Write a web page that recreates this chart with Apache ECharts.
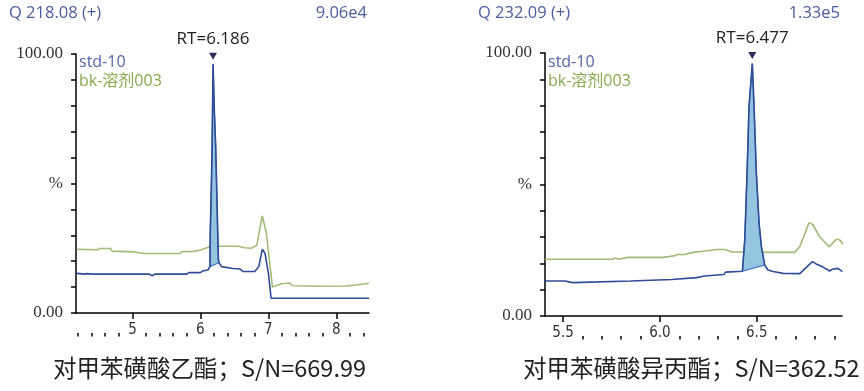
<!DOCTYPE html>
<html>
<head>
<meta charset="utf-8">
<script src="https://cdn.jsdelivr.net/npm/echarts@6/dist/echarts.min.js"></script>
<style>
  html, body { margin: 0; padding: 0; background: #fff; }
  #chart { width: 864px; height: 391px; }
</style>
</head>
<body>
<div id="chart"></div>
<script>
// ---- Ethyl p-toluenesulfonate, m/z 218.08 ----
const ethylStd = [
  [4.18, 15.3], [4.30, 15.0], [4.33, 15.2], [4.40, 15.0], [5.25, 15.0], [5.29, 14.4],
  [5.33, 15.0], [5.80, 15.0], [5.83, 15.6], [6.00, 15.6], [6.03, 16.2], [6.11, 16.6],
  [6.14, 17.9], [6.145, 30.8], [6.16, 47.5], [6.172, 64], [6.186, 96], [6.205, 78],
  [6.225, 64], [6.24, 47.5], [6.255, 30.8], [6.265, 20.5], [6.275, 19.4], [6.31, 17.9],
  [6.48, 17.2], [6.58, 17.0], [6.63, 16.0], [6.80, 16.0], [6.86, 18.0], [6.91, 24.6],
  [6.95, 23.0], [7.00, 15.4], [7.04, 5.7], [7.25, 5.7], [7.27, 5.9], [7.30, 5.7], [8.48, 5.7]
];
const ethylBlank = [
  [4.18, 24.6], [4.48, 24.4], [4.52, 24.9], [4.68, 24.9], [4.70, 23.9], [5.02, 23.6],
  [5.17, 23.0], [5.70, 23.0], [5.73, 23.7], [5.90, 23.8], [6.00, 24.3], [6.14, 25.6],
  [6.29, 25.8], [6.56, 25.8], [6.65, 25.2], [6.75, 25.0], [6.83, 26.2], [6.91, 37.5],
  [6.97, 30.8], [7.03, 17.0], [7.06, 10.0], [7.19, 11.3], [7.31, 11.6], [7.36, 10.5],
  [7.75, 10.3], [8.14, 10.4], [8.29, 10.8], [8.48, 11.5]
];
// integrated window: first and last trace point of the peak
const ethylPeakRange = [6.14, 6.275];
const ethylApex = [6.186, 96];
const ethylTicks = [5, 6, 7, 8];
const ethylMinor = [4.2, 4.4, 4.6, 4.8, 5.2, 5.4, 5.6, 5.8, 6.2, 6.4, 6.6, 6.8,
  7.2, 7.4, 7.6, 7.8, 8.2, 8.4];

// ---- Isopropyl p-toluenesulfonate, m/z 232.09 ----
const isoStd = [
  [5.407, 13.3], [5.51, 13.3], [5.52, 12.7], [5.55, 12.7], [5.56, 13.3], [5.85, 13.3],
  [5.86, 13.9], [6.06, 13.9], [6.07, 14.6], [6.19, 14.6], [6.20, 15.2], [6.23, 15.2],
  [6.24, 15.8], [6.33, 15.8], [6.34, 16.7], [6.426, 17.0], [6.438, 28.9], [6.450, 54.3],
  [6.460, 79.6], [6.477, 96], [6.486, 79.6], [6.498, 54.3], [6.512, 35.2], [6.524, 26.4],
  [6.541, 19.4], [6.558, 17.5], [6.584, 16.9], [6.636, 16.2], [6.722, 16.1], [6.787, 20.7],
  [6.807, 19.8], [6.842, 18.6], [6.876, 17.1], [6.89, 17.8], [6.919, 18.1], [6.942, 16.9]
];
const isoBlank = [
  [5.407, 21.6], [5.756, 21.6], [5.77, 22.1], [5.785, 21.6], [5.837, 22.3], [6.017, 22.3],
  [6.026, 22.9], [6.077, 22.9], [6.094, 23.5], [6.12, 23.3], [6.172, 24.2], [6.232, 24.7],
  [6.292, 25.3], [6.335, 25.3], [6.369, 24.4], [6.584, 24.2], [6.696, 24.2], [6.722, 26.3],
  [6.77, 35.5], [6.79, 34.7], [6.824, 30.2], [6.873, 26.3], [6.911, 29.2], [6.928, 29.0],
  [6.945, 27.4]
];
const isoPeakRange = [6.426, 6.541];
const isoApex = [6.477, 96];
const isoTicks = [5.5, 6.0, 6.5];
const isoMinor = [5.6, 5.7, 5.8, 5.9, 6.1, 6.2, 6.3, 6.4, 6.6, 6.7, 6.8, 6.9];

const yMinorTicks = [0, 10, 20, 30, 40, 50, 60, 70, 80, 90, 100];

const STD_COLOR = '#2f4c99';
const BLANK_COLOR = '#a3bb78';
const FILL_COLOR = '#93c4e0';
const TEXT_BLUE = '#4c5d9e';
const LEGEND_BLUE = '#5565a8';
const LEGEND_GREEN = '#8aa84c';

const panels = [
  {
    grid: { left: 76, right: 495, top: 54, bottom: 78 },
    min: 4.17, max: 8.48,
    major: ethylTicks, minor: ethylMinor, fmt: v => String(v),
    std: ethylStd, blank: ethylBlank, peak: ethylPeakRange, apex: ethylApex, rt: 'RT=6.186'
  },
  {
    grid: { left: 545, right: 22, top: 53, bottom: 75 },
    min: 5.407, max: 6.94,
    major: isoTicks, minor: isoMinor, fmt: v => v.toFixed(1),
    std: isoStd, blank: isoBlank, peak: isoPeakRange, apex: isoApex, rt: 'RT=6.477'
  }
];

const CHART_H = 391;
const MINOR_LEN = 3.5;
const grids = [], xAxes = [], yAxes = [], series = [];
const tickLine = { color: '#000', width: 1.5 };

// grids 0,1: the two plots
panels.forEach((p, i) => {
  grids.push(p.grid);
  xAxes.push({
    type: 'value', gridIndex: i, min: p.min, max: p.max,
    axisLine: { show: true, lineStyle: tickLine }, splitLine: { show: false },
    axisTick: { show: true, length: 6, customValues: p.major, lineStyle: tickLine },
    axisLabel: { show: true, customValues: p.major, formatter: p.fmt, margin: 10,
      fontFamily: 'DejaVu Sans Condensed', fontSize: 15, color: '#333' }
  });
  yAxes.push({
    type: 'value', gridIndex: i, min: 0, max: 100,
    axisLine: { show: true, lineStyle: tickLine }, splitLine: { show: false },
    axisTick: { show: true, length: 5, customValues: yMinorTicks, lineStyle: tickLine },
    axisLabel: { show: true, customValues: [0, 50, 100], margin: 13,
      formatter: v => v === 50 ? '%' : v.toFixed(2),
      fontFamily: 'Liberation Serif', fontSize: 17, color: '#333' }
  });
});

// grids 2,3: thin strips just under each time axis; their top-edge axis
// carries the short minor ticks, which reach up to the time axis line
panels.forEach((p, i) => {
  const axisY = CHART_H - p.grid.bottom;
  grids.push({ left: p.grid.left, right: p.grid.right, top: axisY + MINOR_LEN, height: 20 });
  xAxes.push({
    type: 'value', gridIndex: i + 2, position: 'top', min: p.min, max: p.max,
    axisLine: { show: false }, splitLine: { show: false },
    axisTick: { show: true, length: MINOR_LEN, customValues: p.minor, lineStyle: tickLine },
    axisLabel: { show: false }
  });
  yAxes.push({ type: 'value', gridIndex: i + 2, min: 0, max: 1, show: false });
});

panels.forEach((p, i) => {
  // integrated area under the standard peak, closed by its baseline
  const peakPts = p.std.filter(d => d[0] >= p.peak[0] - 1e-9 && d[0] <= p.peak[1] + 1e-9);
  series.push({
    type: 'line', xAxisIndex: i, yAxisIndex: i, data: p.blank,
    symbol: 'none', lineStyle: { color: BLANK_COLOR, width: 1.6 }, z: 2, animation: false
  });
  series.push({
    type: 'custom', xAxisIndex: i, yAxisIndex: i, data: [0], z: 3, animation: false,
    renderItem: (params, api) => {
      const pts = peakPts.map(d => api.coord(d));
      return { type: 'polygon', shape: { points: pts },
        style: { fill: FILL_COLOR, stroke: '#3f74c0', lineWidth: 1.2 } };
    }
  });
  series.push({
    type: 'line', xAxisIndex: i, yAxisIndex: i, data: p.std,
    symbol: 'none', lineStyle: { color: STD_COLOR, width: 1.6 }, z: 4, animation: false,
    markPoint: {
      symbol: 'triangle', symbolRotate: 180, symbolSize: [8, 7], symbolOffset: [0, -8],
      itemStyle: { color: '#2b2d5a' },
      label: { show: true, position: 'top', distance: 5, formatter: p.rt,
        fontFamily: 'Open Sans', fontSize: 17, color: '#222' },
      data: [{ coord: p.apex }]
    }
  });
});

const headFont = { fontFamily: 'Open Sans', fontSize: 16.5, fill: TEXT_BLUE };
const legendBase = { fontFamily: 'Open Sans, Noto Sans CJK SC', fontSize: 16 };
const graphic = [
  { type: 'text', left: 9, top: 5, style: Object.assign({ text: 'Q 218.08 (+)' }, headFont) },
  { type: 'text', right: 497, top: 5, style: Object.assign({ text: '9.06e4' }, headFont) },
  { type: 'text', left: 478, top: 5, style: Object.assign({ text: 'Q 232.09 (+)' }, headFont) },
  { type: 'text', right: 24, top: 5, style: Object.assign({ text: '1.33e5' }, headFont) },

  { type: 'text', left: 79, top: 54, style: Object.assign({ text: 'std-10', fill: LEGEND_BLUE }, legendBase) },
  { type: 'text', left: 79, top: 73, style: Object.assign({ text: 'bk-溶剂003', fill: LEGEND_GREEN }, legendBase) },
  { type: 'text', left: 548, top: 54, style: Object.assign({ text: 'std-10', fill: LEGEND_BLUE }, legendBase) },
  { type: 'text', left: 548, top: 73, style: Object.assign({ text: 'bk-溶剂003', fill: LEGEND_GREEN }, legendBase) },

  { type: 'text', left: 53, top: 356, style: { text: '对甲苯磺酸乙酯；S/N=669.99', fontFamily: 'Noto Sans CJK SC', fontSize: 23.5, fill: '#222' } },
  { type: 'text', left: 523, top: 356, style: { text: '对甲苯磺酸异丙酯；S/N=362.52', fontFamily: 'Noto Sans CJK SC', fontSize: 23.5, fill: '#222' } }
];

const chart = echarts.init(document.getElementById('chart'), null, { renderer: 'canvas' });
chart.setOption({
  animation: false,
  backgroundColor: '#fff',
  grid: grids,
  xAxis: xAxes,
  yAxis: yAxes,
  series: series,
  graphic: graphic
});
</script>
</body>
</html>
